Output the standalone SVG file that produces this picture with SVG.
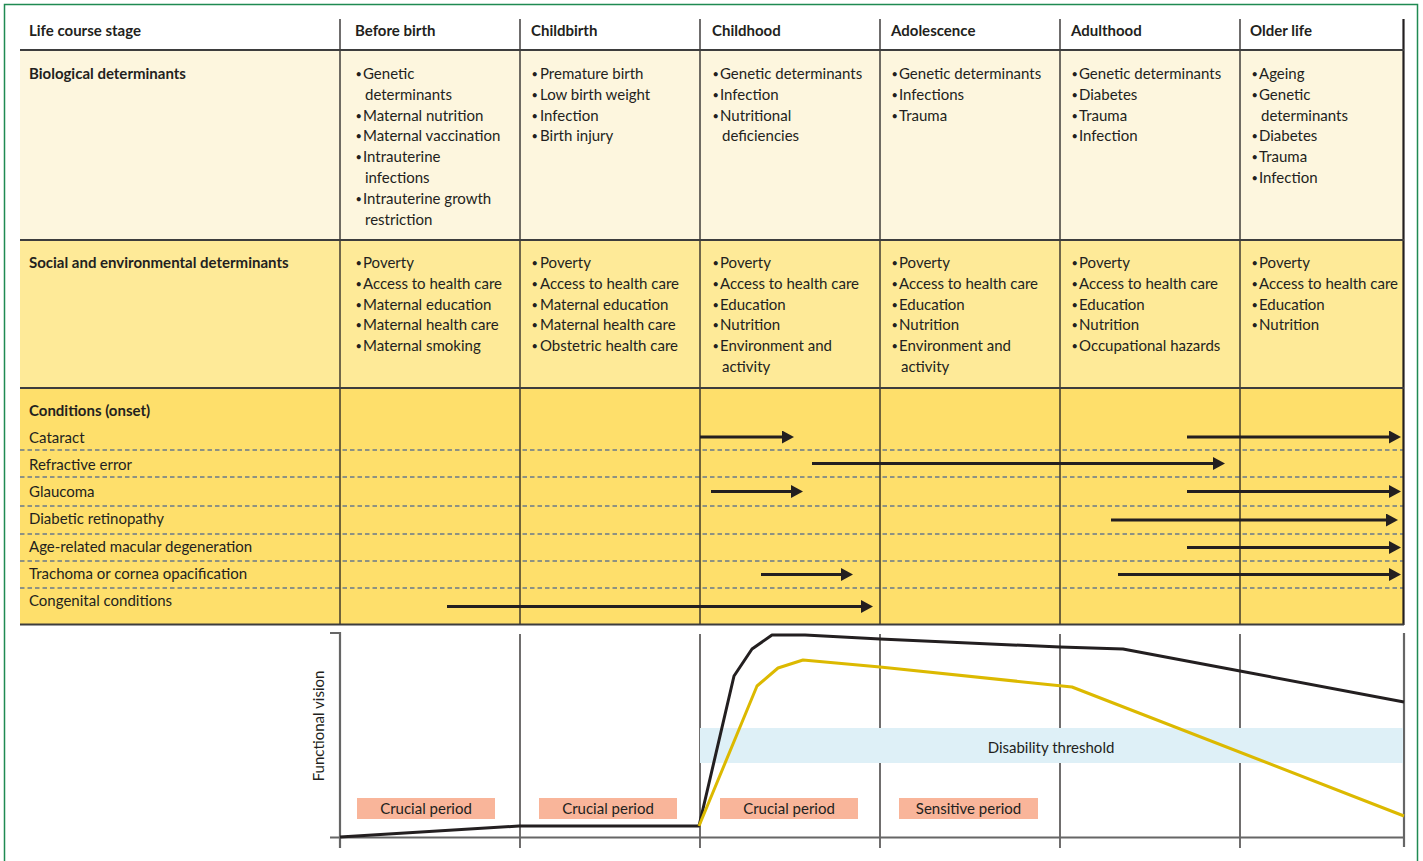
<svg xmlns="http://www.w3.org/2000/svg" width="1423" height="861" viewBox="0 0 1423 861">
<defs>
<style>
text{font-family:Lato,"Open Sans","Liberation Sans",sans-serif;fill:#231f20;}
.h{font-size:15px;font-weight:bold;}
.t{font-size:15px;}
.b{font-size:11px;}
.c{font-size:15px;}
.col{stroke:#231f20;stroke-width:1.3;fill:none;}
.row{stroke:#3d3d3d;stroke-width:2;fill:none;}
.dash{stroke:#6a7a8a;stroke-width:1.3;stroke-dasharray:4.5 3;fill:none;}
.arr{stroke:#231f20;stroke-width:3;fill:none;marker-end:url(#ah);}
.ax{stroke:#666;stroke-width:2.2;fill:none;}
.box{fill:#f9b59a;}
</style>
<marker id="ah" viewBox="0 0 12 13" refX="1" refY="6.5" markerWidth="12" markerHeight="13" markerUnits="userSpaceOnUse" orient="auto">
<path d="M0,0 L12,6.5 L0,13 Z" fill="#231f20"/>
</marker>
</defs>
<rect x="0" y="0" width="1423" height="861" fill="#ffffff"/>
<rect x="4.5" y="4.5" width="1413" height="900" fill="#ffffff" stroke="#1f8a52" stroke-width="1.5"/>

<g id="table-bg">
<rect x="20" y="50" width="1384" height="190" fill="#fdf6de"/>
<rect x="20" y="240" width="1384" height="148" fill="#feea98"/>
<rect x="20" y="388" width="1384" height="236" fill="#fedf6b"/>
</g>

<g id="table-lines">
<line class="dash" x1="20" y1="450" x2="1403" y2="450"/>
<line class="dash" x1="20" y1="477" x2="1403" y2="477"/>
<line class="dash" x1="20" y1="506" x2="1403" y2="506"/>
<line class="dash" x1="20" y1="534" x2="1403" y2="534"/>
<line class="dash" x1="20" y1="561" x2="1403" y2="561"/>
<line class="dash" x1="20" y1="588" x2="1403" y2="588"/>
<line class="col" x1="340" y1="19" x2="340" y2="624"/>
<line class="col" x1="520" y1="19" x2="520" y2="624"/>
<line class="col" x1="700" y1="19" x2="700" y2="624"/>
<line class="col" x1="880" y1="19" x2="880" y2="624"/>
<line class="col" x1="1060" y1="19" x2="1060" y2="624"/>
<line class="col" x1="1240" y1="19" x2="1240" y2="624"/>
<line x1="1403.5" y1="19" x2="1403.5" y2="625" stroke="#231f20" stroke-width="2.2"/>
<line class="row" x1="20" y1="50" x2="1404" y2="50" stroke="#555"/>
<line class="row" x1="20" y1="240" x2="1404" y2="240"/>
<line class="row" x1="20" y1="388" x2="1404" y2="388"/>
<line class="row" x1="20" y1="624.5" x2="1404" y2="624.5"/>
</g>

<g id="row-labels">
<text class="h" x="29" y="36">Life course stage</text>
<text class="h" x="29" y="79">Biological determinants</text>
<text class="h" x="29" y="268">Social and environmental determinants</text>
<text class="h" x="29" y="416">Conditions (onset)</text>
</g>

<g id="col-before-birth">
<text class="h" x="355" y="36">Before birth</text>
<text class="b"><tspan x="355.5" y="78">•</tspan><tspan x="355.5" y="119.6">•</tspan><tspan x="355.5" y="140.4">•</tspan><tspan x="355.5" y="161.2">•</tspan><tspan x="355.5" y="202.8">•</tspan></text>
<text class="t"><tspan x="363" y="79">Genetic</tspan><tspan x="365" y="99.8">determinants</tspan><tspan x="363" y="120.6">Maternal nutrition</tspan><tspan x="363" y="141.4">Maternal vaccination</tspan><tspan x="363" y="162.2">Intrauterine</tspan><tspan x="365" y="183">infections</tspan><tspan x="363" y="203.8">Intrauterine growth</tspan><tspan x="365" y="224.6">restriction</tspan></text>
<text class="b"><tspan x="355.5" y="267">•</tspan><tspan x="355.5" y="287.8">•</tspan><tspan x="355.5" y="308.6">•</tspan><tspan x="355.5" y="329.4">•</tspan><tspan x="355.5" y="350.2">•</tspan></text>
<text class="t"><tspan x="363" y="268">Poverty</tspan><tspan x="363" y="288.8">Access to health care</tspan><tspan x="363" y="309.6">Maternal education</tspan><tspan x="363" y="330.4">Maternal health care</tspan><tspan x="363" y="351.2">Maternal smoking</tspan></text>
</g>

<g id="col-childbirth">
<text class="h" x="531" y="36">Childbirth</text>
<text class="b"><tspan x="531.5" y="78">•</tspan><tspan x="531.5" y="98.8">•</tspan><tspan x="531.5" y="119.6">•</tspan><tspan x="531.5" y="140.4">•</tspan></text>
<text class="t"><tspan x="540" y="79">Premature birth</tspan><tspan x="540" y="99.8">Low birth weight</tspan><tspan x="540" y="120.6">Infection</tspan><tspan x="540" y="141.4">Birth injury</tspan></text>
<text class="b"><tspan x="531.5" y="267">•</tspan><tspan x="531.5" y="287.8">•</tspan><tspan x="531.5" y="308.6">•</tspan><tspan x="531.5" y="329.4">•</tspan><tspan x="531.5" y="350.2">•</tspan></text>
<text class="t"><tspan x="540" y="268">Poverty</tspan><tspan x="540" y="288.8">Access to health care</tspan><tspan x="540" y="309.6">Maternal education</tspan><tspan x="540" y="330.4">Maternal health care</tspan><tspan x="540" y="351.2">Obstetric health care</tspan></text>
</g>

<g id="col-childhood">
<text class="h" x="712" y="36">Childhood</text>
<text class="b"><tspan x="712.5" y="78">•</tspan><tspan x="712.5" y="98.8">•</tspan><tspan x="712.5" y="119.6">•</tspan></text>
<text class="t"><tspan x="720" y="79">Genetic determinants</tspan><tspan x="720" y="99.8">Infection</tspan><tspan x="720" y="120.6">Nutritional</tspan><tspan x="722" y="141.4">deficiencies</tspan></text>
<text class="b"><tspan x="712.5" y="267">•</tspan><tspan x="712.5" y="287.8">•</tspan><tspan x="712.5" y="308.6">•</tspan><tspan x="712.5" y="329.4">•</tspan><tspan x="712.5" y="350.2">•</tspan></text>
<text class="t"><tspan x="720" y="268">Poverty</tspan><tspan x="720" y="288.8">Access to health care</tspan><tspan x="720" y="309.6">Education</tspan><tspan x="720" y="330.4">Nutrition</tspan><tspan x="720" y="351.2">Environment and</tspan><tspan x="722" y="372">activity</tspan></text>
</g>

<g id="col-adolescence">
<text class="h" x="891" y="36">Adolescence</text>
<text class="b"><tspan x="891.5" y="78">•</tspan><tspan x="891.5" y="98.8">•</tspan><tspan x="891.5" y="119.6">•</tspan></text>
<text class="t"><tspan x="899" y="79">Genetic determinants</tspan><tspan x="899" y="99.8">Infections</tspan><tspan x="899" y="120.6">Trauma</tspan></text>
<text class="b"><tspan x="891.5" y="267">•</tspan><tspan x="891.5" y="287.8">•</tspan><tspan x="891.5" y="308.6">•</tspan><tspan x="891.5" y="329.4">•</tspan><tspan x="891.5" y="350.2">•</tspan></text>
<text class="t"><tspan x="899" y="268">Poverty</tspan><tspan x="899" y="288.8">Access to health care</tspan><tspan x="899" y="309.6">Education</tspan><tspan x="899" y="330.4">Nutrition</tspan><tspan x="899" y="351.2">Environment and</tspan><tspan x="901" y="372">activity</tspan></text>
</g>

<g id="col-adulthood">
<text class="h" x="1071" y="36">Adulthood</text>
<text class="b"><tspan x="1071.5" y="78">•</tspan><tspan x="1071.5" y="98.8">•</tspan><tspan x="1071.5" y="119.6">•</tspan><tspan x="1071.5" y="140.4">•</tspan></text>
<text class="t"><tspan x="1079" y="79">Genetic determinants</tspan><tspan x="1079" y="99.8">Diabetes</tspan><tspan x="1079" y="120.6">Trauma</tspan><tspan x="1079" y="141.4">Infection</tspan></text>
<text class="b"><tspan x="1071.5" y="267">•</tspan><tspan x="1071.5" y="287.8">•</tspan><tspan x="1071.5" y="308.6">•</tspan><tspan x="1071.5" y="329.4">•</tspan><tspan x="1071.5" y="350.2">•</tspan></text>
<text class="t"><tspan x="1079" y="268">Poverty</tspan><tspan x="1079" y="288.8">Access to health care</tspan><tspan x="1079" y="309.6">Education</tspan><tspan x="1079" y="330.4">Nutrition</tspan><tspan x="1079" y="351.2">Occupational hazards</tspan></text>
</g>

<g id="col-older-life">
<text class="h" x="1250" y="36">Older life</text>
<text class="b"><tspan x="1251.5" y="78">•</tspan><tspan x="1251.5" y="98.8">•</tspan><tspan x="1251.5" y="140.4">•</tspan><tspan x="1251.5" y="161.2">•</tspan><tspan x="1251.5" y="182">•</tspan></text>
<text class="t"><tspan x="1259" y="79">Ageing</tspan><tspan x="1259" y="99.8">Genetic</tspan><tspan x="1261" y="120.6">determinants</tspan><tspan x="1259" y="141.4">Diabetes</tspan><tspan x="1259" y="162.2">Trauma</tspan><tspan x="1259" y="183">Infection</tspan></text>
<text class="b"><tspan x="1251.5" y="267">•</tspan><tspan x="1251.5" y="287.8">•</tspan><tspan x="1251.5" y="308.6">•</tspan><tspan x="1251.5" y="329.4">•</tspan></text>
<text class="t"><tspan x="1259" y="268">Poverty</tspan><tspan x="1259" y="288.8">Access to health care</tspan><tspan x="1259" y="309.6">Education</tspan><tspan x="1259" y="330.4">Nutrition</tspan></text>
</g>

<g id="condition-labels">
<text class="c" x="29" y="442.5">Cataract</text>
<text class="c" x="29" y="469.5">Refractive error</text>
<text class="c" x="29" y="496.5">Glaucoma</text>
<text class="c" x="29" y="523.5">Diabetic retinopathy</text>
<text class="c" x="29" y="551.5">Age-related macular degeneration</text>
<text class="c" x="29" y="578.5">Trachoma or cornea opacification</text>
<text class="c" x="29" y="605.5">Congenital conditions</text>
</g>

<g id="connectors">
<line class="arr" x1="700" y1="437" x2="783" y2="437"/>
<line class="arr" x1="1187" y1="437" x2="1390" y2="437"/>
<line class="arr" x1="812" y1="463.5" x2="1214" y2="463.5"/>
<line class="arr" x1="711" y1="491.5" x2="792" y2="491.5"/>
<line class="arr" x1="1187" y1="491.5" x2="1390" y2="491.5"/>
<line class="arr" x1="1111" y1="520" x2="1387" y2="520"/>
<line class="arr" x1="1187" y1="547.5" x2="1390" y2="547.5"/>
<line class="arr" x1="761" y1="574.5" x2="842" y2="574.5"/>
<line class="arr" x1="1118" y1="574.5" x2="1390" y2="574.5"/>
<line class="arr" x1="447" y1="606.5" x2="862" y2="606.5"/>
</g>

<g id="graph">
<line class="col" x1="520" y1="634" x2="520" y2="848"/>
<line class="col" x1="700" y1="634" x2="700" y2="848"/>
<line class="col" x1="880" y1="634" x2="880" y2="848"/>
<line class="col" x1="1060" y1="634" x2="1060" y2="848"/>
<line class="col" x1="1240" y1="634" x2="1240" y2="848"/>
<polyline class="ax" points="330,633 340,633 340,848"/>
<line class="ax" x1="330" y1="837.5" x2="1404" y2="837.5"/>
<line class="ax" x1="1404" y1="633" x2="1404" y2="847" stroke-width="2.5"/>
<g id="disability-threshold">
<rect x="700" y="728" width="703" height="35" fill="#def0f7"/>
<text class="t" x="1051" y="752.5" text-anchor="middle">Disability threshold</text>
</g>
<g id="period-1"><rect class="box" x="357" y="798" width="138" height="21"/><text class="t" x="426" y="813.5" text-anchor="middle">Crucial period</text></g>
<g id="period-2"><rect class="box" x="539" y="798" width="138" height="21"/><text class="t" x="608" y="813.5" text-anchor="middle">Crucial period</text></g>
<g id="period-3"><rect class="box" x="720" y="798" width="138" height="21"/><text class="t" x="789" y="813.5" text-anchor="middle">Crucial period</text></g>
<g id="period-4"><rect class="box" x="899" y="798" width="139" height="21"/><text class="t" x="968.5" y="813.5" text-anchor="middle">Sensitive period</text></g>
<polyline fill="none" stroke="#231f20" stroke-width="3" stroke-linejoin="round" points="340,837 519,826 699,826 734,676 752,649 772,635 805,635 880,639 1060,647 1123,649 1240,671 1404,702"/>
<polyline fill="none" stroke="#dcb900" stroke-width="3" stroke-linejoin="round" points="699,826 757,686 778,668 803,660 880,667 1072,687 1404,816"/>
<text class="t" transform="translate(324,726) rotate(-90)" text-anchor="middle">Functional vision</text>
</g>
</svg>
